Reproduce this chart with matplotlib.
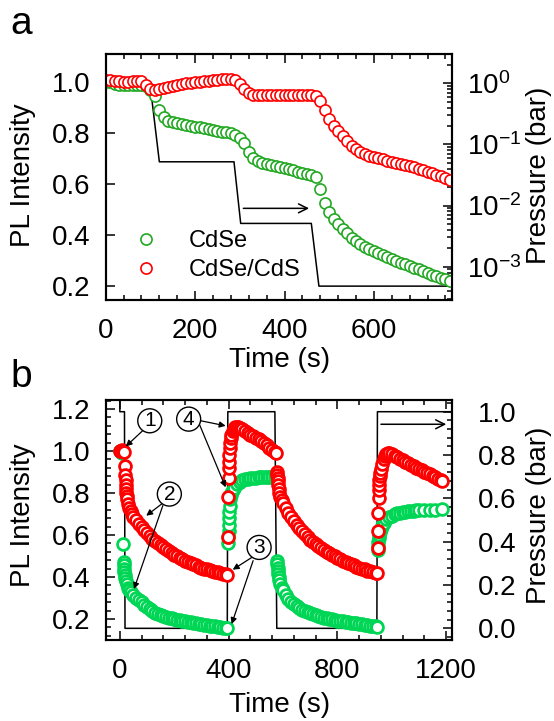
import matplotlib.pyplot as plt
import numpy as np
from matplotlib.ticker import AutoMinorLocator, MultipleLocator, LogLocator, NullFormatter

plt.rcParams['font.family'] = ['Liberation Sans', 'DejaVu Sans']
plt.rcParams['mathtext.fontset'] = 'custom'
plt.rcParams['mathtext.rm'] = 'Liberation Sans'
plt.rcParams['mathtext.it'] = 'Liberation Sans:italic'
plt.rcParams['mathtext.bf'] = 'Liberation Sans:bold'

# ---- panel a: slow pump-down in steps ----
time_a = np.arange(0, 780, 10)
cdse_a = [1.00, 1.00, 0.995, 0.99, 0.99, 0.99, 0.99, 0.99, 0.99, 0.985,
          0.97, 0.945, 0.89, 0.865, 0.85, 0.845, 0.84, 0.835, 0.832, 0.83,
          0.826, 0.823, 0.82, 0.817, 0.813, 0.81, 0.807, 0.804, 0.80, 0.795,
          0.78, 0.76, 0.725, 0.705, 0.693, 0.685, 0.68, 0.676, 0.672, 0.668,
          0.665, 0.66, 0.655, 0.65, 0.645, 0.64, 0.635, 0.63, 0.58, 0.525,
          0.49, 0.465, 0.443, 0.425, 0.407, 0.39, 0.377, 0.365, 0.355, 0.345,
          0.337, 0.33, 0.322, 0.315, 0.307, 0.30, 0.293, 0.287, 0.28, 0.273,
          0.266, 0.258, 0.252, 0.246, 0.24, 0.234, 0.228, 0.222]
cdscds_a = [1.01, 1.01, 1.005, 1.005, 1.0, 1.0, 1.005, 1.005, 1.005, 0.99,
            0.975, 0.968, 0.972, 0.978, 0.982, 0.986, 0.99, 0.993, 0.996, 0.998,
            1.0, 1.002, 1.004, 1.006, 1.008, 1.01, 1.012, 1.014, 1.014, 1.01,
            0.995, 0.975, 0.958, 0.952, 0.95, 0.95, 0.949, 0.949, 0.949, 0.95,
            0.95, 0.95, 0.951, 0.951, 0.951, 0.952, 0.952, 0.948, 0.925, 0.89,
            0.856, 0.83, 0.81, 0.79, 0.77, 0.75, 0.737, 0.726, 0.717, 0.711,
            0.706, 0.703, 0.698, 0.693, 0.688, 0.684, 0.68, 0.676, 0.671, 0.666,
            0.66, 0.655, 0.65, 0.645, 0.638, 0.632, 0.625, 0.618]
p_time_a = [0, 99, 120, 287, 302, 460, 477, 775]
p_val_a = [1.0, 1.0, 0.052, 0.052, 0.0051, 0.0051, 0.00048, 0.00048]

# ---- panel b: pressure cycling 1 bar <-> vacuum ----
t_green_b = [0, 4, 8, 12, 14, 15, 16, 17, 18, 20, 22, 25, 30, 35, 40, 50, 60, 70, 80, 90,
             100, 110, 120, 130, 140, 150, 160, 170, 180, 190, 200, 210, 220, 230, 240, 250,
             260, 270, 280, 290, 300, 310, 320, 330, 340, 350, 360, 370, 380, 390, 395,
             398, 399, 400, 401, 402, 403, 404, 406, 408, 410, 415, 420, 430, 440, 450, 460,
             470, 480, 490, 500, 510, 520, 530, 540, 550, 560, 570, 575,
             578, 579, 580, 581, 582, 584, 586, 590, 595, 600, 610, 620, 630, 640, 650, 660,
             670, 680, 690, 700, 710, 720, 730, 740, 750, 760, 770, 780, 790, 800, 810, 820,
             830, 840, 850, 860, 870, 880, 890, 900, 910, 920, 930, 940, 945,
             948, 949, 950, 952, 954, 957, 960, 965, 970, 980, 990, 1000, 1010, 1020, 1030,
             1040, 1050, 1060, 1070, 1080, 1090, 1100, 1120, 1140, 1160, 1185]
cdse_b = [1.0, 0.995, 0.99, 0.556, 0.47, 0.455, 0.44, 0.425, 0.41, 0.395, 0.38, 0.365, 0.35,
          0.338, 0.328, 0.314, 0.302, 0.29, 0.279, 0.268,
          0.257, 0.247, 0.238, 0.231, 0.225, 0.22, 0.215, 0.211, 0.207, 0.203, 0.2, 0.197,
          0.194, 0.191, 0.189, 0.186, 0.184, 0.181, 0.179, 0.177, 0.175, 0.173, 0.171,
          0.169, 0.167, 0.165, 0.163, 0.161, 0.159, 0.157, 0.156,
          0.56, 0.59, 0.62, 0.65, 0.68, 0.71, 0.74, 0.77, 0.79, 0.80, 0.815, 0.826, 0.842,
          0.853, 0.86, 0.865, 0.868, 0.87, 0.872, 0.873, 0.874, 0.875, 0.876, 0.877, 0.877,
          0.878, 0.878, 0.878,
          0.475, 0.46, 0.445, 0.43, 0.415, 0.40, 0.385, 0.365, 0.35, 0.337, 0.315, 0.297,
          0.282, 0.27, 0.26, 0.252, 0.245, 0.238, 0.232, 0.227, 0.222, 0.218, 0.214, 0.21,
          0.207, 0.204, 0.201, 0.198, 0.196, 0.193, 0.191, 0.189, 0.187, 0.185, 0.183,
          0.181, 0.179, 0.177, 0.175, 0.173, 0.171, 0.169, 0.167, 0.165, 0.164,
          0.53, 0.55, 0.565, 0.585, 0.60, 0.615, 0.628, 0.645, 0.658, 0.675, 0.686, 0.693,
          0.699, 0.703, 0.706, 0.709, 0.711, 0.713, 0.715, 0.716, 0.717, 0.718, 0.719,
          0.72, 0.721, 0.722]
t_red_b = [0, 4, 8, 12, 16, 18, 20, 21, 22, 23, 24, 25, 27, 30, 35, 40, 45, 50, 60, 70, 80, 90,
           100, 110, 120, 130, 140, 150, 160, 170, 180, 190, 200, 210, 220, 230, 240, 250,
           260, 270, 280, 290, 300, 310, 320, 330, 340, 350, 360, 370, 380, 390, 395,
           398, 399, 400, 401, 402, 403, 404, 406, 408, 410, 415, 420, 425, 430, 435, 440,
           450, 460, 470, 480, 490, 500, 510, 520, 530, 540, 550, 560, 570, 575,
           578, 579, 580, 581, 582, 584, 586, 590, 595, 600, 610, 620, 630, 640, 650, 660,
           670, 680, 690, 700, 710, 720, 730, 740, 750, 760, 770, 780, 790, 800, 810, 820,
           830, 840, 850, 860, 870, 880, 890, 900, 910, 920, 930, 940, 945,
           948, 949, 950, 951, 952, 953, 954, 955, 957, 960, 965, 970, 975, 980, 985, 990,
           1000, 1010, 1020, 1030, 1040, 1050, 1060, 1070, 1080, 1090, 1100, 1110, 1120,
           1130, 1140, 1150, 1160, 1170, 1180, 1185]
cdscds_b = [1.0, 1.0, 1.005, 1.0, 0.995, 0.93, 0.885, 0.86, 0.84, 0.82, 0.80, 0.785, 0.77,
            0.75, 0.73, 0.715, 0.70, 0.688, 0.67, 0.653, 0.638, 0.622,
            0.608, 0.595, 0.583, 0.572, 0.561, 0.551, 0.541, 0.532, 0.523, 0.515, 0.507,
            0.499, 0.492, 0.485, 0.478, 0.472, 0.466, 0.46, 0.455, 0.45, 0.445, 0.44, 0.436,
            0.432, 0.428, 0.425, 0.422, 0.419, 0.416, 0.413, 0.412,
            0.59, 0.78, 0.87, 0.917, 0.95, 0.98, 1.013, 1.04, 1.06, 1.075, 1.095, 1.107,
            1.113, 1.116, 1.115, 1.112, 1.104, 1.095, 1.086, 1.078, 1.07, 1.063, 1.056,
            1.049, 1.038, 1.027, 1.016, 1.006, 0.997, 0.99,
            0.90, 0.885, 0.87, 0.855, 0.84, 0.82, 0.80, 0.78, 0.765, 0.752, 0.728, 0.705,
            0.685, 0.666, 0.648, 0.632, 0.617, 0.603, 0.59, 0.578, 0.567, 0.557, 0.547,
            0.538, 0.529, 0.521, 0.513, 0.505, 0.498, 0.491, 0.484, 0.478, 0.472, 0.466,
            0.46, 0.455, 0.45, 0.445, 0.44, 0.436, 0.431, 0.427, 0.423, 0.419, 0.417,
            0.537, 0.62, 0.703, 0.775, 0.814, 0.838, 0.862, 0.88, 0.895, 0.915, 0.94, 0.96,
            0.975, 0.985, 0.99, 0.99, 0.985, 0.978, 0.97, 0.962, 0.955, 0.948, 0.941, 0.934,
            0.928, 0.921, 0.915, 0.908, 0.902, 0.896, 0.89, 0.883, 0.876, 0.869, 0.862, 0.859]
p_time_b = [0, 0, 17, 19, 395, 397, 570, 577, 945, 947, 1230]
p_val_b = [1.2, 1.0, 1.0, 0.0, 0.0, 1.0, 1.0, 0.0, 0.0, 1.0, 1.0]

green_a = '#22a822'
green_b = '#00d655'
red = '#ff0000'
fs = 20

fig = plt.figure(figsize=(5.54, 7.21), dpi=100)


def style_axes(ax, ax2):
    for a in (ax, ax2):
        for s in a.spines.values():
            s.set_linewidth(1.5)
    ax.tick_params(axis='x', which='both', direction='in', top=True, bottom=True,
                   labelsize=fs, pad=13)
    ax.tick_params(axis='y', which='both', direction='in', left=True, right=False,
                   labelsize=fs, pad=11)
    ax.tick_params(which='major', length=6.5, width=1.1)
    ax.tick_params(which='minor', length=3.5, width=1.1)
    ax2.tick_params(axis='y', which='both', direction='in', right=True, labelsize=fs)
    ax2.tick_params(which='major', length=6.5, width=1.1)
    ax2.tick_params(which='minor', length=3.5, width=1.1)
    ax.set_zorder(ax2.get_zorder() + 1)
    ax.patch.set_visible(False)


# panel a
axa = fig.add_axes([0.1908, 0.5846, 0.6245, 0.3405])
axa2 = axa.twinx()
axa2.plot(p_time_a, p_val_a, color='k', lw=1.1)
axa2.set_yscale('log')
axa2.set_ylim(2.9e-4, 3.02)
axa2.yaxis.set_major_locator(LogLocator(base=10, numticks=10))
axa2.yaxis.set_minor_locator(LogLocator(base=10, subs=np.arange(2, 10), numticks=20))
axa2.yaxis.set_minor_formatter(NullFormatter())
axa2.annotate('', xy=(455, 0.009), xytext=(308, 0.009),
              arrowprops=dict(arrowstyle='->', color='k', lw=1.1, mutation_scale=16,
                              shrinkA=0, shrinkB=0))

axa.plot(time_a, cdse_a, 'o', ls='none', mfc='white', mec=green_a, ms=8, mew=1.2,
         label='CdSe')
axa.plot(time_a, cdscds_a, 'o', ls='none', mfc='white', mec=red, ms=8, mew=1.2,
         label='CdSe/CdS')
axa.set_xlim(0, 774)
axa.set_ylim(0.148, 1.111)
axa.xaxis.set_major_locator(MultipleLocator(200))
axa.xaxis.set_minor_locator(AutoMinorLocator(5))
axa.yaxis.set_major_locator(MultipleLocator(0.2))
style_axes(axa, axa2)
axa2.tick_params(axis='y', pad=11)
axa.legend(loc='upper left', bbox_to_anchor=(0.083, 0.283), frameon=False, borderpad=0,
           borderaxespad=0, handlelength=1.0, handletextpad=1.3, labelspacing=0.3,
           fontsize=17)

# panel b
axb = fig.add_axes([0.1908, 0.1123, 0.6245, 0.3329])
axb2 = axb.twinx()
axb2.plot(p_time_b, p_val_b, color='k', lw=1.1)
axb2.set_ylim(-0.054, 1.054)
axb2.yaxis.set_major_locator(MultipleLocator(0.2))
axb2.yaxis.set_minor_locator(AutoMinorLocator(5))
axb2.annotate('', xy=(1200, 0.942), xytext=(960, 0.942),
              arrowprops=dict(arrowstyle='->', color='k', lw=1.1, mutation_scale=16,
                              shrinkA=0, shrinkB=0))

axb.plot(t_green_b, cdse_b, 'o', ls='none', mfc='white', mec=green_b, ms=8.5, mew=2.0)
axb.plot(t_red_b, cdscds_b, 'o', ls='none', mfc='white', mec=red, ms=8.5, mew=2.0)
axb.set_xlim(-52, 1220)
axb.set_ylim(0.1, 1.243)
axb.xaxis.set_major_locator(MultipleLocator(400))
axb.xaxis.set_minor_locator(AutoMinorLocator(5))
axb.yaxis.set_major_locator(MultipleLocator(0.2))
axb.yaxis.set_minor_locator(AutoMinorLocator(5))
style_axes(axb, axb2)
axb2.tick_params(axis='y', pad=19)

arrow_kw = dict(arrowstyle='-|>', color='k', lw=0.9, mutation_scale=9, shrinkA=0, shrinkB=0)
marks = [('1', 110, 1.144, [((84, 1.097), (22, 1.022))]),
         ('4', 253, 1.152, [((298, 1.144), (389, 1.12)), ((292, 1.129), (389, 0.827))]),
         ('2', 182, 0.795, [((162, 0.756), (97, 0.692)), ((158, 0.74), (52, 0.343))]),
         ('3', 512, 0.541, [((486, 0.494), (415, 0.435)), ((490, 0.478), (411, 0.176))])]
for num, x, y, arrows in marks:
    axb.text(x, y, num, ha='center', va='center', fontsize=15, zorder=6,
             bbox=dict(boxstyle='circle,pad=0.12', fc='white', ec='k', lw=1.0))
    for start, end in arrows:
        axb.annotate('', xy=end, xytext=start, arrowprops=arrow_kw, zorder=5)

# labels
W, H = 554, 721
fig.text(22.7 / W, 1 - 175 / H, 'PL Intensity', rotation=90, ha='center', va='center', fontsize=fs)
fig.text(539 / W, 1 - 175 / H, 'Pressure (bar)', rotation=90, ha='center', va='center', fontsize=fs)
fig.text(280 / W, 1 - 360 / H, 'Time (s)', ha='center', va='center', fontsize=fs)
fig.text(22.7 / W, 1 - 515 / H, 'PL Intensity', rotation=90, ha='center', va='center', fontsize=fs)
fig.text(539 / W, 1 - 515 / H, 'Pressure (bar)', rotation=90, ha='center', va='center', fontsize=fs)
fig.text(280 / W, 1 - 705 / H, 'Time (s)', ha='center', va='center', fontsize=fs)
fig.text(21 / W, 1 - 24 / H, 'a', ha='center', va='center', fontsize=28)
fig.text(21 / W, 1 - 377 / H, 'b', ha='center', va='center', fontsize=28)

plt.savefig('out.png', dpi=100)
